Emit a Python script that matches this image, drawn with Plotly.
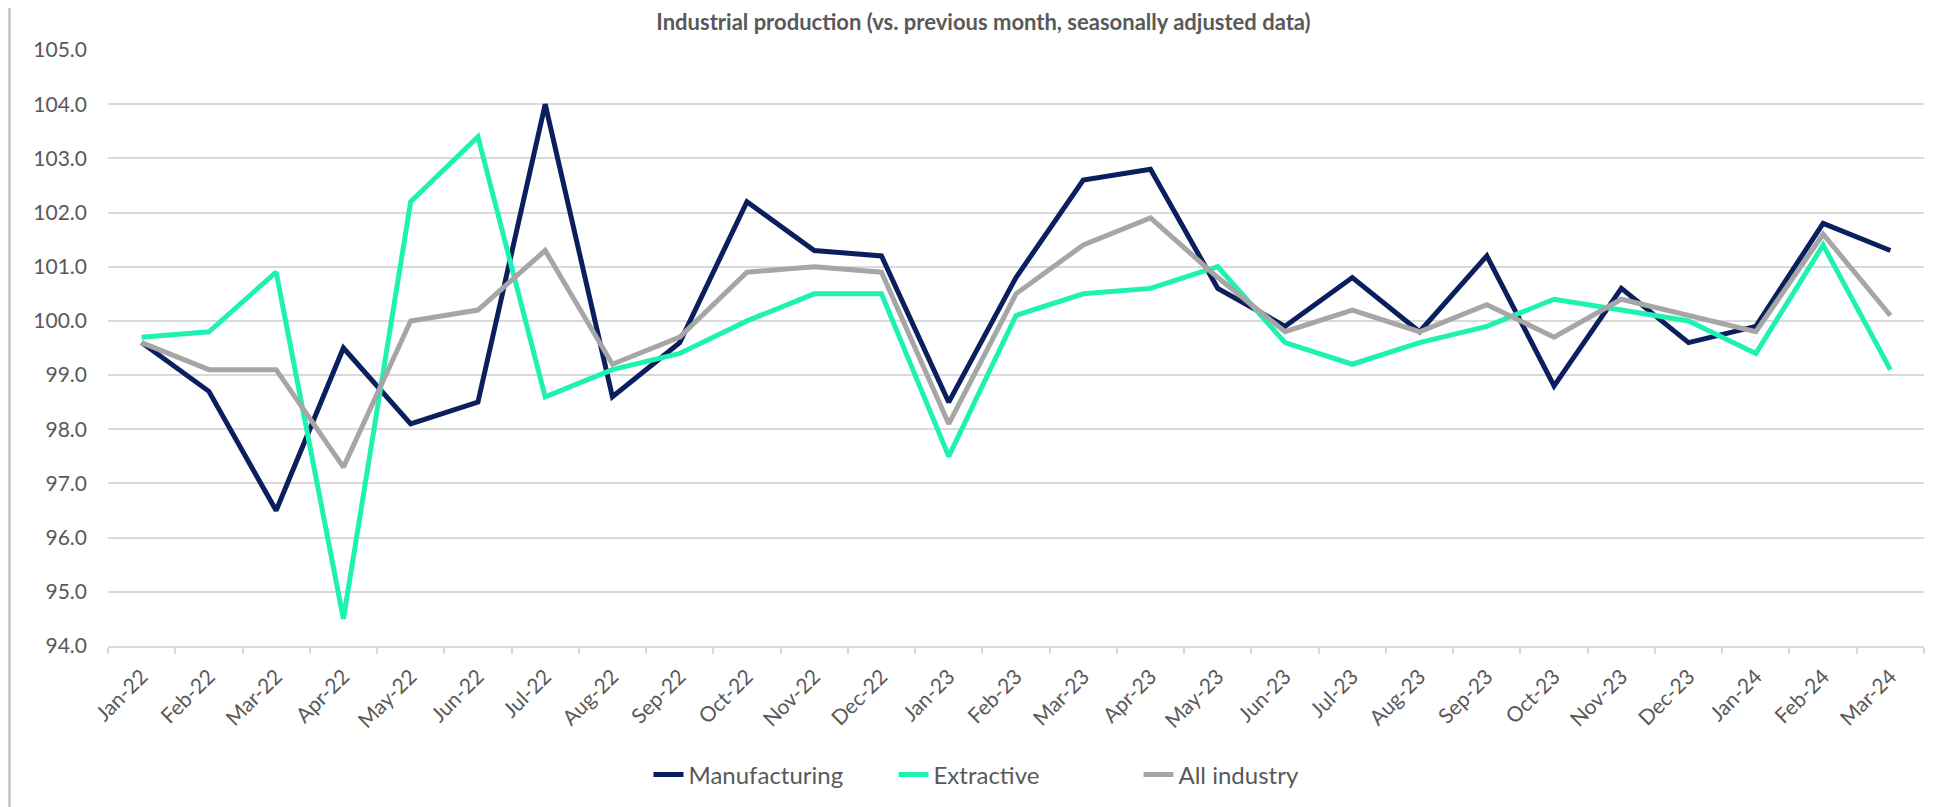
import plotly.graph_objects as go

months = ["Jan-22", "Feb-22", "Mar-22", "Apr-22", "May-22", "Jun-22", "Jul-22", "Aug-22", "Sep-22",
          "Oct-22", "Nov-22", "Dec-22", "Jan-23", "Feb-23", "Mar-23", "Apr-23", "May-23", "Jun-23",
          "Jul-23", "Aug-23", "Sep-23", "Oct-23", "Nov-23", "Dec-23", "Jan-24", "Feb-24", "Mar-24"]

manufacturing = [99.6, 98.7, 96.5, 99.5, 98.1, 98.5, 104.0, 98.6, 99.6,
                 102.2, 101.3, 101.2, 98.5, 100.8, 102.6, 102.8, 100.6, 99.9,
                 100.8, 99.8, 101.2, 98.8, 100.6, 99.6, 99.9, 101.8, 101.3]

extractive = [99.7, 99.8, 100.9, 94.5, 102.2, 103.4, 98.6, 99.1, 99.4,
              100.0, 100.5, 100.5, 97.5, 100.1, 100.5, 100.6, 101.0, 99.6,
              99.2, 99.6, 99.9, 100.4, 100.2, 100.0, 99.4, 101.4, 99.1]

all_industry = [99.6, 99.1, 99.1, 97.3, 100.0, 100.2, 101.3, 99.2, 99.7,
                100.9, 101.0, 100.9, 98.1, 100.5, 101.4, 101.9, 100.8, 99.8,
                100.2, 99.8, 100.3, 99.7, 100.4, 100.1, 99.8, 101.6, 100.1]

series_names = ["Manufacturing", "Extractive", "All industry"]
title_text = "Industrial production (vs. previous month, seasonally adjusted data)"

W, H = 1951, 807
ML, MR, MT, MB = 100, 35, 42, 169
FONT = "Lato"
TXT = "#595959"
GRID = "#d9d9d9"

fig = go.Figure()
for name, vals, col in [(series_names[0], manufacturing, "#0b1f5e"),
                        (series_names[1], extractive, "#1ef2b2"),
                        (series_names[2], all_industry, "#a6a6a6")]:
    fig.add_trace(go.Scatter(x=months, y=vals, mode="lines", name=name,
                             line=dict(color=col, width=5)))

pw = W - ML - MR
ph = H - MT - MB
fig.add_shape(type="rect", xref="paper", yref="paper",
              x0=-(ML - 1.5) / pw, x1=1 + (MR - 2.5) / pw,
              y0=-(MB - 1.5) / ph, y1=1 + (MT + 5) / ph,
              line=dict(color="#c4c4c4", width=2.5), layer="below")

fig.update_layout(
    template="none",
    width=W, height=H,
    margin=dict(l=ML, r=MR, t=MT, b=MB, autoexpand=False),
    paper_bgcolor="white", plot_bgcolor="white",
    font=dict(family=FONT, size=21, color=TXT),
    title=dict(text="<b>" + title_text + "</b>", x=0.5, xanchor="center",
               yref="container", y=1 - 22 / H, yanchor="bottom",
               font=dict(family=FONT, size=22, color=TXT)),
    showlegend=True,
    legend=dict(orientation="h", x=0.5, xanchor="center", y=-(767 - (H - MB)) / ph,
                yanchor="middle", bgcolor="rgba(0,0,0,0)",
                entrywidth=200, entrywidthmode="pixels",
                font=dict(family=FONT, size=24, color=TXT), traceorder="normal"),
    xaxis=dict(type="category", range=[-0.5, len(months) - 0.5], tickangle=-45,
               showgrid=False, showline=True, automargin=False,
               linecolor=GRID, linewidth=2, ticks="outside", tickson="boundaries",
               ticklen=6, tickcolor=GRID, tickwidth=2, ticklabelstandoff=8,
               tickfont=dict(family=FONT, size=21, color=TXT)),
    yaxis=dict(range=[94, 105], dtick=1, tickformat=".1f", showgrid=True,
               gridcolor=GRID, gridwidth=2, zeroline=False, showline=False,
               ticks="", ticklabelstandoff=20, automargin=False,
               tickfont=dict(family=FONT, size=21, color=TXT)),
)
fig.write_html("out.html")
